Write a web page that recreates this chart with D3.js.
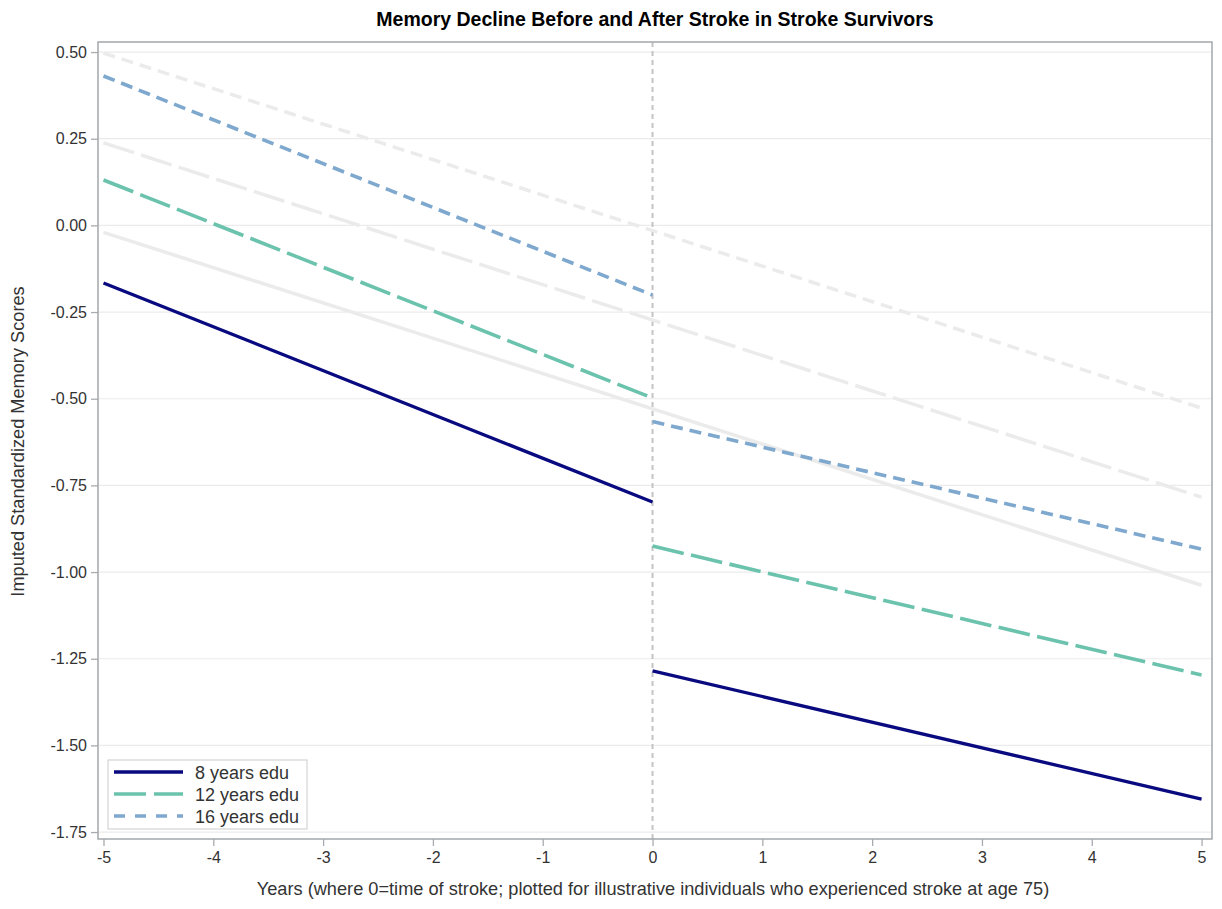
<!DOCTYPE html>
<html><head><meta charset="utf-8">
<script src="https://cdn.jsdelivr.net/npm/d3@7"></script>
<style>body{margin:0;background:#fff}svg{display:block}text{font-family:"Liberation Sans",Arial,sans-serif}</style>
</head><body><svg id="c" width="1222" height="909"></svg>
<script>
const xTicks = [-5,-4,-3,-2,-1,0,1,2,3,4,5];
const yTicks = [0.5,0.25,0,-0.25,-0.5,-0.75,-1.0,-1.25,-1.5,-1.75];
const seriesNames = ["8 years edu","12 years edu","16 years edu"];
const seriesColors = ["#0a0a80","#6bc3ad","#7ea8ce"];
const seriesDash = [null,"32,7.5","12,7"];
// pre-stroke segment (year -5 to 0), post-stroke segment (year 0 to 5)
const preYears = [-5,0];
const postYears = [0,5];
const pre8 = [-0.166,-0.798];
const post8 = [-1.285,-1.655];
const pre12 = [0.131,-0.498];
const post12 = [-0.925,-1.297];
const pre16 = [0.431,-0.201];
const post16 = [-0.566,-0.934];
// reference trajectories without stroke (light gray)
const refYears = [-5,5];
const ref8 = [-0.02,-1.038];
const ref12 = [0.238,-0.784];
const ref16 = [0.497,-0.527];

const svg = d3.select("#c");
const L=98,R=1212,T=42,B=839;
const x = d3.scaleLinear().domain([-5.05,5.095]).range([L,R]);
const y = d3.scaleLinear().domain([-1.77,0.529]).range([B,T]);
const hy = s => s.replace(/\u2212/g,"-");

// gridlines
svg.append("g").selectAll("line").data(yTicks).join("line")
  .attr("x1",L).attr("x2",R).attr("y1",d=>y(d)).attr("y2",d=>y(d))
  .attr("stroke","#ebebeb").attr("stroke-width",1.2);

// axes
const yAxis = svg.append("g").attr("transform",`translate(${L},0)`)
  .call(d3.axisLeft(y).tickValues(yTicks).tickFormat(d=>hy(d3.format(".2f")(d))).tickSize(7).tickPadding(4));
const xAxis = svg.append("g").attr("transform",`translate(0,${B})`)
  .call(d3.axisBottom(x).tickValues(xTicks).tickFormat(d=>hy(d3.format("d")(d))).tickSize(7).tickPadding(6));
[yAxis,xAxis].forEach(g=>{
  g.select(".domain").remove();
  g.selectAll(".tick line").attr("stroke","#a8acb0").attr("stroke-width",1.3);
  g.selectAll(".tick text").attr("fill","#333").style("font-size","16px");
});

// vertical reference at stroke
svg.append("line").attr("x1",x(0)).attr("x2",x(0)).attr("y1",T).attr("y2",B)
  .attr("stroke","#c4c4c4").attr("stroke-width",2).attr("stroke-dasharray","5,4");

const line = d3.line().x(d=>x(d[0])).y(d=>y(d[1]));
const zip=(a,b)=>a.map((v,i)=>[v,b[i]]);
const g = svg.append("g");
svg.append("clipPath").attr("id","cp").append("rect").attr("x",L).attr("y",T).attr("width",R-L).attr("height",B-T);
g.attr("clip-path","url(#cp)");

const refs=[ref8,ref12,ref16];
refs.forEach((r,i)=>{
  g.append("path").attr("d",line(zip(refYears,r))).attr("fill","none")
   .attr("stroke","#ebebeb").attr("stroke-width",3.5).attr("stroke-dasharray",seriesDash[i]);
});
const segs=[[pre8,post8],[pre12,post12],[pre16,post16]];
segs.forEach((s,i)=>{
  [zip(preYears,s[0]),zip(postYears,s[1])].forEach(pts=>{
    g.append("path").attr("d",line(pts)).attr("fill","none")
     .attr("stroke",seriesColors[i]).attr("stroke-width",i===0?3.3:3.6)
     .attr("stroke-dasharray",seriesDash[i]);
  });
});

// frame
svg.append("rect").attr("x",L).attr("y",T).attr("width",R-L).attr("height",B-T)
  .attr("fill","none").attr("stroke","#a4a8ac").attr("stroke-width",1.5);

// legend
const lg = svg.append("g");
lg.append("rect").attr("x",108).attr("y",760).attr("width",199).attr("height",69)
  .attr("fill","#fff").attr("stroke","#d4d4d4").attr("stroke-width",1.2);
seriesNames.forEach((n,i)=>{
  const yy=772+i*22;
  lg.append("line").attr("x1",114).attr("x2",183).attr("y1",yy).attr("y2",yy)
    .attr("stroke",seriesColors[i]).attr("stroke-width",3.3).attr("stroke-dasharray",seriesDash[i]===null?null:(i===1?"32,8":"11,10"));
  lg.append("text").attr("x",195).attr("y",yy+6.5).text(n).attr("fill","#333").style("font-size","18px");
});

// titles
svg.append("text").attr("x",655).attr("y",26).attr("text-anchor","middle")
  .style("font-size","19.5px").style("font-weight","bold").attr("fill","#000")
  .text("Memory Decline Before and After Stroke in Stroke Survivors");
svg.append("text").attr("x",653).attr("y",895).attr("text-anchor","middle")
  .style("font-size","18.2px").attr("fill","#333")
  .text("Years (where 0=time of stroke; plotted for illustrative individuals who experienced stroke at age 75)");
svg.append("text").attr("transform",`translate(24,${(T+B)/2+1}) rotate(-90)`).attr("text-anchor","middle")
  .style("font-size","18.2px").attr("fill","#333")
  .text("Imputed Standardized Memory Scores");
</script></body></html>
